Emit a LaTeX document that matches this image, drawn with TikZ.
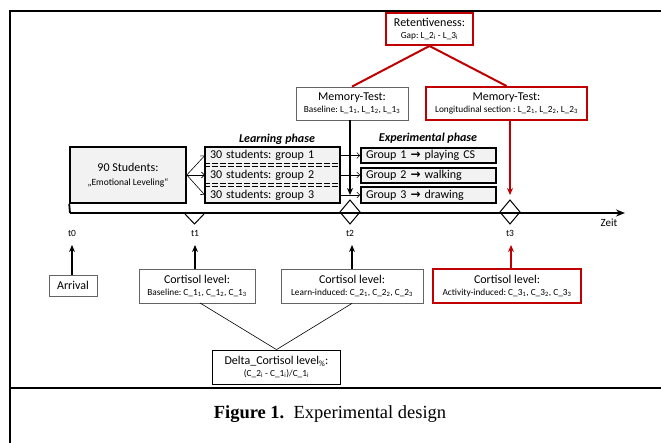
\documentclass[tikz,border=0pt]{standalone}
\usepackage{fontspec}
\setmainfont{Carlito}
\newfontfamily\capfont{Liberation Serif}
\newfontfamily\arrfont{DejaVu Sans}
\usetikzlibrary{arrows.meta}
\frenchspacing
\definecolor{dred}{RGB}{192,0,0}
\definecolor{fillg}{RGB}{242,242,242}
\definecolor{bordg}{RGB}{100,100,100}
\newcommand{\bigf}{\fontsize{12}{13}\selectfont}
\newcommand{\smallf}{\fontsize{9.3}{11}\selectfont}
\newcommand{\rarr}{{\arrfont\bfseries\fontsize{12}{12}\selectfont →}}
\newcommand{\sbs}[1]{\textsubscript{#1}}
\tikzset{
  basebox/.style={rectangle, align=center, inner sep=0pt, font=\bigf},
  graybox/.style={basebox, draw=bordg, line width=0.8pt},
  redbox/.style={basebox, draw=dred, line width=2pt},
  blackbox/.style={basebox, draw=black, fill=fillg, line width=1.6pt},
  rowtext/.style={rectangle, inner xsep=5pt, inner ysep=0pt, text width=125pt, align=left, minimum height=15pt, font=\bigf},
  thickarrow/.style={line width=1.5pt, -{Stealth[length=7pt,width=6pt]}},
  thinarrow/.style={line width=0.6pt, -{Straight Barb[length=3pt,width=6pt]}},
  tlabel/.style={font=\fontsize{9.5}{10}\selectfont, inner sep=0pt},
  frameline/.style={line width=2.4pt},
  tmark/.style={line width=1pt},
  dline/.style={line width=1.3pt, dash pattern=on 6pt off 2pt}
}
\begin{document}
\begin{tikzpicture}[x=1pt,y=-1pt]
\useasboundingbox (0,0) rectangle (661,443);
% frame
\draw[frameline] (10,443) -- (10,11) -- (661,11);
\draw[frameline] (10,388) -- (661,388);

% top boxes
\node[redbox, minimum width=87pt, minimum height=32pt] (ret) at (429.5,29) {Retentiveness:\\[-1pt]{\smallf Gap: L\_2\sbs{i} - L\_3\sbs{i}}};
\node[graybox, minimum width=112pt, minimum height=33pt] (memb) at (352,103.5) {Memory-Test:\\[-1pt]{\smallf Baseline: L\_1\sbs{1}, L\_1\sbs{2}, L\_1\sbs{3}}};
\node[redbox, minimum width=161pt, minimum height=33pt] (meml) at (506.5,103.5) {Memory-Test:\\[-1pt]{\smallf Longitudinal section : L\_2\sbs{1}, L\_2\sbs{2}, L\_2\sbs{3}}};
\draw[dred, line width=2pt] (ret.south) -- (memb.north);
\draw[dred, line width=2pt] (ret.south) -- (meml.north);

% students
\node[blackbox, minimum width=116pt, minimum height=56pt] (stud) at (128,175) {90 Students:\\[1pt]{\fontsize{9.5}{11}\selectfont „Emotional Leveling“}};

% learning phase
\node[font=\bfseries\itshape\bigf] (lp) at (277,139) {Learning phase};
\node[blackbox, minimum width=135pt, minimum height=56pt] (learn) at (272.5,175) {};
\draw[dline] (learn.west |- 0,163.5) -- (learn.east |- 0,163.5);
\draw[dline] (learn.west |- 0,166.5) -- (learn.east |- 0,166.5);
\draw[dline] (learn.west |- 0,183.5) -- (learn.east |- 0,183.5);
\draw[dline] (learn.west |- 0,186.5) -- (learn.east |- 0,186.5);
\node[rowtext] (g1) at (272.5,155.5) {30 students: group 1};
\node[rowtext] (g2) at (272.5,175) {30 students: group 2};
\node[rowtext] (g3) at (272.5,195) {30 students: group 3};

% experimental phase
\node[font=\bfseries\itshape\bigf] (ep) at (428,138) {Experimental phase};
\node[blackbox, rowtext, minimum height=15pt] (e1) at (428.5,155.5) {Group 1 \rarr{} playing CS};
\node[blackbox, rowtext, minimum height=15pt] (e2) at (428.5,175.5) {Group 2 \rarr{} walking};
\node[blackbox, rowtext, minimum height=16pt] (e3) at (428.5,195) {Group 3 \rarr{} drawing};

% fan arrows
\draw[thinarrow] (stud.east) -- (g1.west);
\draw[thinarrow] (stud.east) -- (g2.west);
\draw[thinarrow] (stud.east) -- (g3.west);
\draw[thinarrow] (g1.east) -- (e1.west);
\draw[thinarrow] (g2.east) -- (e2.west |- g2.east);
\draw[thinarrow] (g3.east) -- (e3.west);

% timeline
\coordinate (tl0) at (70,213);
\coordinate (tlend) at (625,213);
\draw[line width=1.8pt] (stud.south west) -- (tl0);
\draw[line width=1.8pt, -{Stealth[length=9pt,width=7pt]}] (tl0) -- (tlend);
\node[font=\fontsize{11}{12}\selectfont, inner sep=0pt] (zeit) at (609,223) {Zeit};
% marks
\draw[tmark] (185,214) -- (194.5,224) -- (204,214);
\draw[tmark] (340,212) -- (350,200) -- (360,212) -- (350,224) -- cycle;
\draw[tmark] (500,212) -- (510,200) -- (520,212) -- (510,224) -- cycle;
\node[tlabel] (t0) at (72,233) {t0};
\node[tlabel] (t1) at (195,233) {t1};
\node[tlabel] (t2) at (350,233) {t2};
\node[tlabel] (t3) at (510,233) {t3};

% arrows from memory tests
\coordinate (m2tip) at (350,195);
\coordinate (m3tip) at (510,195);
\draw[thickarrow] (memb.south -| m2tip) -- (m2tip);
\draw[thickarrow, dred] (meml.south -| m3tip) -- (m3tip);

% bottom boxes
\node[graybox, minimum width=48pt, minimum height=21pt] (arr) at (73,285.5) {Arrival};
\node[graybox, minimum width=116pt, minimum height=34pt] (c1) at (197,286) {Cortisol level:\\[-1pt]{\smallf Baseline: C\_1\sbs{1}, C\_1\sbs{2}, C\_1\sbs{3}}};
\node[graybox, minimum width=142pt, minimum height=34pt] (c2) at (352,286) {Cortisol level:\\[-1pt]{\smallf Learn-induced: C\_2\sbs{1}, C\_2\sbs{2}, C\_2\sbs{3}}};
\node[redbox, minimum width=148pt, minimum height=34pt] (c3) at (507,286) {Cortisol level:\\[-1pt]{\smallf Activity-induced: C\_3\sbs{1}, C\_3\sbs{2}, C\_3\sbs{3}}};
\coordinate (a0) at (72,245);
\coordinate (a1) at (195,245);
\coordinate (a2) at (352,245);
\coordinate (a3) at (511,245);
\draw[thickarrow] (arr.north -| a0) -- (a0);
\draw[thickarrow] (c1.north -| a1) -- (a1);
\draw[thickarrow] (c2.north -| a2) -- (a2);
\draw[thickarrow, dred] (c3.north -| a3) -- (a3);

% delta
\node[graybox, draw=black, line width=0.8pt, minimum width=128pt, minimum height=34pt] (delta) at (276.5,367) {Delta\_Cortisol level\sbs{\%}:\\[-1pt]{\smallf (C\_2\sbs{i} - C\_1\sbs{i})/C\_1\sbs{i}}};
\coordinate (c1b) at (200,303);
\draw[line width=0.6pt] (c1b) -- (delta.north);
\draw[line width=0.6pt] (c2.south) -- (delta.north);

% caption
\node[font=\capfont\fontsize{18.5}{20}\selectfont, inner sep=0pt] (cap) at (330,414) {\textbf{Figure 1.}\ \ Experimental design};
\end{tikzpicture}
\end{document}
